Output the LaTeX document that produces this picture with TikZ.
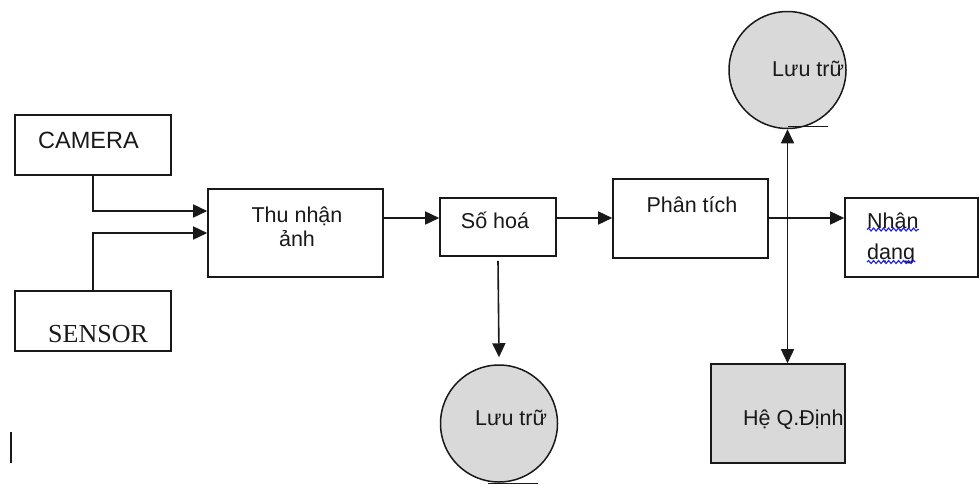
\documentclass[tikz,border=0pt]{standalone}
\usepackage{fontspec}
\setmainfont{Liberation Sans}
\newfontfamily\serifface{Liberation Serif}
\usetikzlibrary{arrows.meta,decorations.pathmorphing}
\definecolor{ink}{RGB}{25,25,25}
\definecolor{shade}{RGB}{217,217,217}
\definecolor{spell}{RGB}{30,30,235}
\tikzset{
  box/.style={draw=ink, line width=1.6pt, rectangle, inner sep=0pt},
  disk/.style={draw=ink, line width=1.5pt, circle, fill=shade, inner sep=0pt, minimum size=117pt},
  txt/.style={inner sep=0pt, text=ink, font=\fontsize{21.5}{24}\selectfont},
  link/.style={draw=ink, line width=1.6pt},
  arr/.style={link, -{Triangle[length=14pt,width=13pt]}},
  biarr/.style={link, {Triangle[length=14pt,width=13pt]}-{Triangle[length=14pt,width=13pt]}},
  squiggle/.style={draw=spell, line width=1.1pt, decorate,
    decoration={snake, amplitude=1.5pt, segment length=5pt}}
}
\begin{document}
\begin{tikzpicture}[x=1pt,y=-1pt]
\useasboundingbox (0,0) rectangle (979,485);

% blocks
\node[box, minimum width=156pt, minimum height=60pt] (cam) at (93,145) {};
\node[box, minimum width=156pt, minimum height=60pt] (sen) at (93,321) {};
\node[box, minimum width=175pt, minimum height=88pt] (thu) at (295.5,233) {};
\node[box, minimum width=116pt, minimum height=58pt] (so) at (498,227) {};
\node[box, minimum width=155pt, minimum height=79pt] (pt) at (690.5,218.5) {};
\node[box, minimum width=133pt, minimum height=79pt] (nd) at (911.5,237.5) {};
\node[box, fill=shade, minimum width=134pt, minimum height=99pt] (hq) at (778,413.5) {};
\node[disk] (store1) at (787.5,70) {};
\node[disk] (store2) at (499,423.5) {};

% labels
\node[txt, anchor=base west, font=\fontsize{23.5}{26}\selectfont] (camt) at (38,148) {CAMERA};
\node[txt, anchor=base west, font=\serifface\fontsize{26}{28}\selectfont] (sent) at (48,342) {SENSOR};
\node[txt, anchor=base] (thut1) at (297,222) {Thu nhận};
\node[txt, anchor=base] (thut2) at (297,246) {ảnh};
\node[txt, anchor=base] (sot) at (495,228) {Số hoá};
\node[txt, anchor=base] (ptt) at (692,212) {Phân tích};
\node[txt, anchor=base west] (ndt1) at (867,228) {Nhận};
\node[txt, anchor=base west] (ndt2) at (867,259) {dạng};
\node[txt, anchor=base west] (hqt) at (743,425) {Hệ Q.Định};
\node[txt, anchor=base west] (s1t) at (772,76) {Lưu trữ};
\node[txt, anchor=base west] (s2t) at (475,425) {Lưu trữ};

% spell-check marks under the last block's words
\draw[squiggle] ([yshift=-1.5pt]ndt1.base west) -- ([yshift=-1.5pt]ndt1.base east);
\draw[squiggle] ([yshift=-3pt]ndt2.base west) -- ([yshift=-3pt]ndt2.base east);

% connectors
\coordinate (row) at (0,218);
\draw[arr] (cam.south) |- ([yshift=22pt]thu.west);
\draw[arr] (sen.north) |- (thu.west);
\draw[arr] (thu.east |- row) -- (so.west |- row);
\draw[arr] (so.east |- row) -- (pt.west |- row);
\draw[arr] (pt.east |- row) -- (nd.west |- row);
\draw[biarr] (store1.south) -- (store1.south |- hq.north);
\draw[arr] ([yshift=-4pt]so.south) -- ([yshift=7pt]store2.north);

% stray strokes
\draw[link, line width=1.3pt] ([yshift=3pt]store1.south) -- ++(40,0);
\draw[link, line width=1.3pt] ([xshift=-11pt,yshift=-0.5pt]store2.south) -- ++(50,0);
\draw[ink, line width=2pt] (11,432) -- (11,463);
\end{tikzpicture}
\end{document}
